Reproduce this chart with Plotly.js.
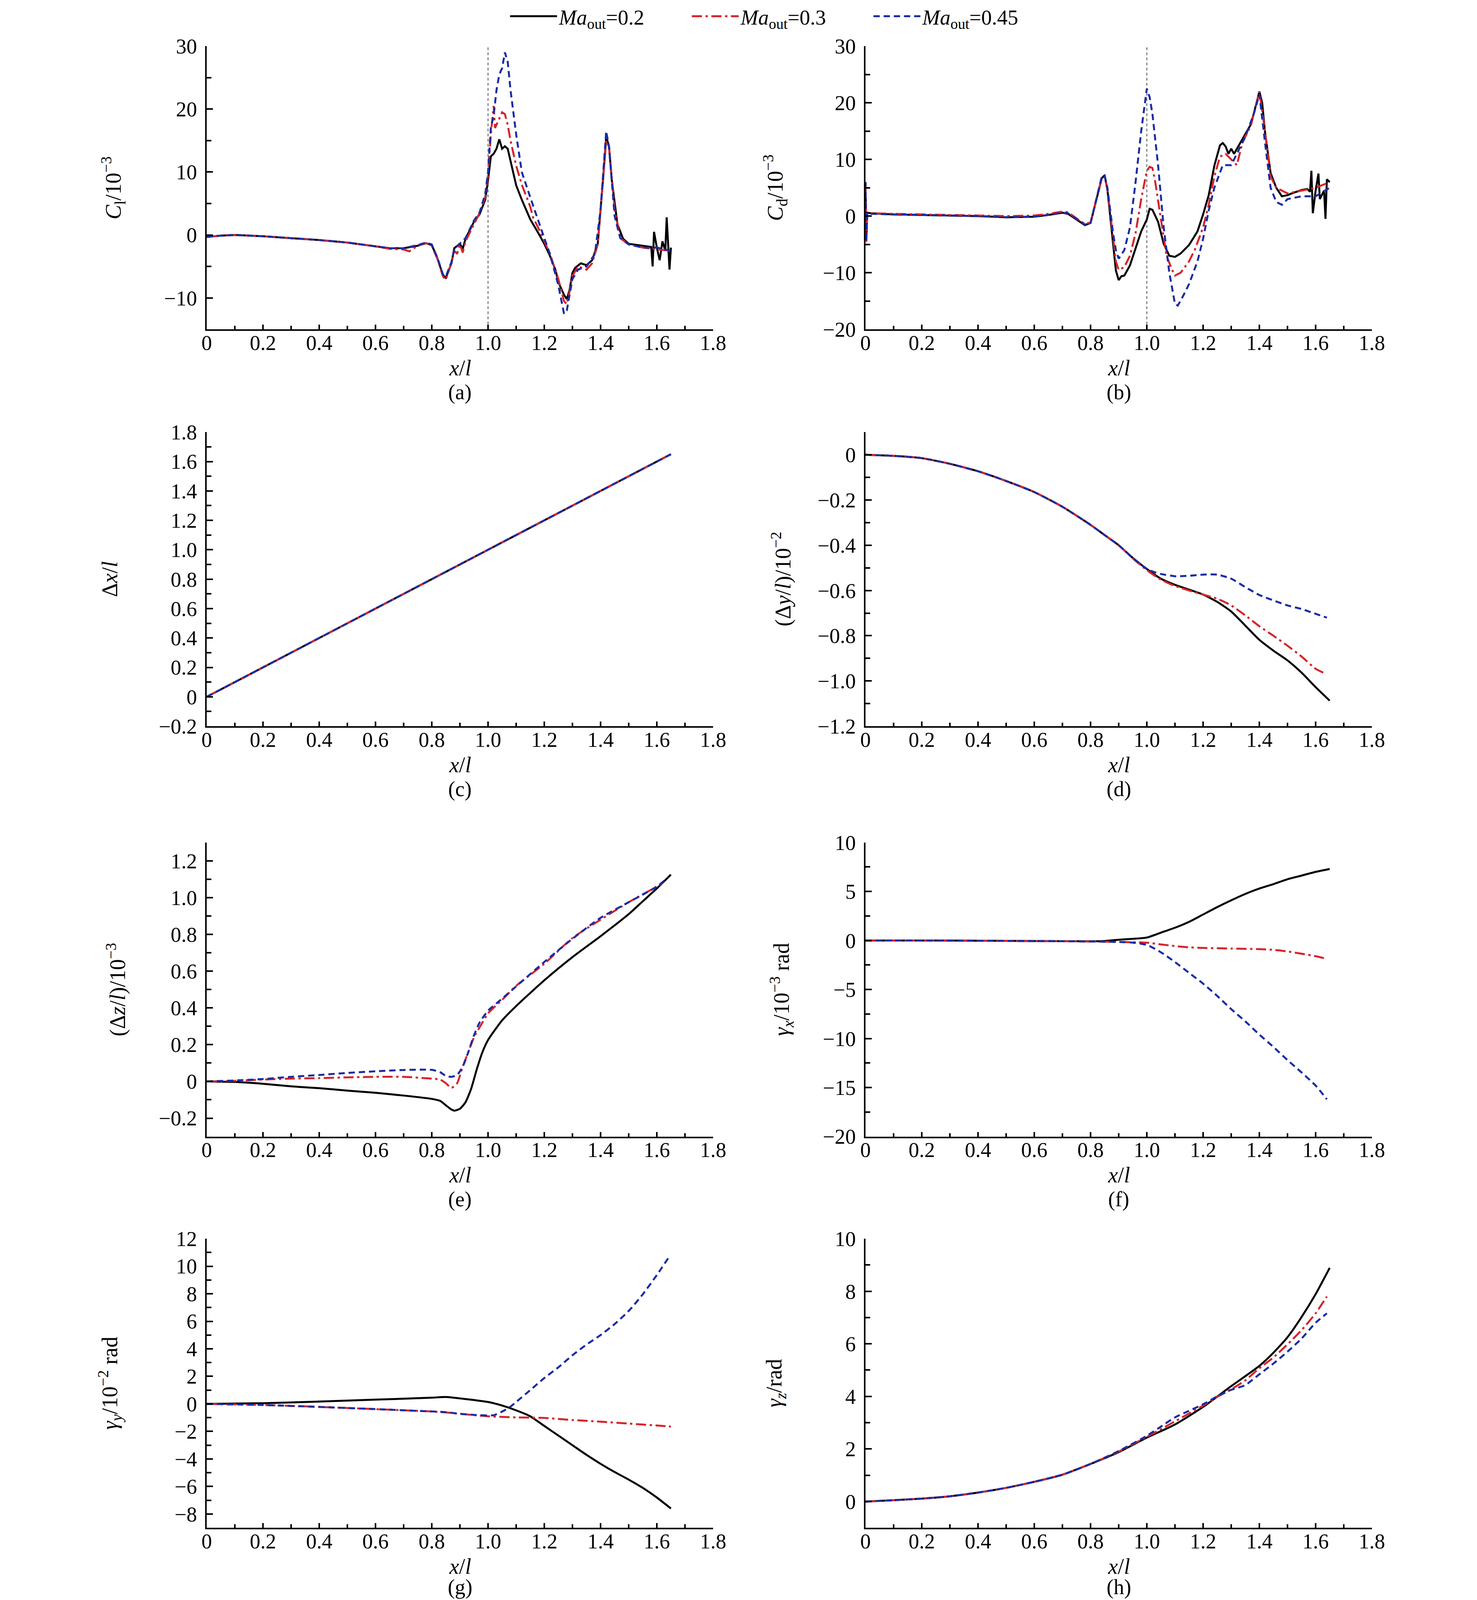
<!DOCTYPE html>
<html>
<head>
<meta charset="utf-8">
<script src="https://cdn.plot.ly/plotly-3.0.1.min.js"></script>
<style>html,body{margin:0;padding:0;background:#fff;overflow:hidden;}#chart{width:3780px;height:5430px;}</style>
</head>
<body>
<div id="chart"></div>
<script>
// ---------------- data (x/l, value) ----------------
const SERIES_NAMES = ['<i>Ma</i><sub>out</sub>=0.2', '<i>Ma</i><sub>out</sub>=0.3', '<i>Ma</i><sub>out</sub>=0.45'];

// (a) Cl/10^-3
const A_black = [[0,-0.3],[0.05,-0.1],[0.1,0],[0.2,-0.2],[0.3,-0.5],[0.4,-0.8],[0.5,-1.2],[0.6,-1.75],[0.65,-2.1],[0.7,-2.1],[0.75,-1.7],[0.78,-1.3],[0.8,-1.6],[0.82,-3.7],[0.84,-6.4],[0.85,-6.8],[0.87,-4.5],[0.88,-2.1],[0.9,-1.4],[0.91,-2.2],[0.92,-0.6],[0.95,2.1],[0.97,3.3],[0.99,5.6],[1.0,8.7],[1.01,12.5],[1.02,12.9],[1.03,13.7],[1.04,15.2],[1.05,13.7],[1.06,14.1],[1.07,13.7],[1.08,11.8],[1.1,7.9],[1.12,5.6],[1.15,2.5],[1.18,0.2],[1.2,-1.4],[1.22,-3.3],[1.24,-5.6],[1.25,-7.5],[1.27,-9.5],[1.28,-10.2],[1.29,-8.7],[1.3,-6],[1.31,-5.2],[1.33,-4.5],[1.35,-4.8],[1.37,-4],[1.39,-1.4],[1.41,9.5],[1.42,15.6],[1.43,14.1],[1.44,8.7],[1.46,1.7],[1.48,-0.6],[1.5,-1.4],[1.55,-1.7],[1.58,-1.9],[1.585,-5],[1.59,0.5],[1.6,-2],[1.61,-4],[1.62,-1],[1.63,-2.5],[1.635,2.8],[1.64,-2],[1.645,-5.5],[1.65,-2]];
const A_red = [[0,-0.3],[0.05,-0.1],[0.1,0],[0.2,-0.2],[0.3,-0.5],[0.4,-0.8],[0.5,-1.2],[0.6,-1.8],[0.65,-2.2],[0.7,-2.3],[0.72,-2.6],[0.75,-1.7],[0.78,-1.3],[0.8,-1.7],[0.82,-3.8],[0.84,-6.6],[0.85,-7.1],[0.87,-4.4],[0.88,-2.5],[0.89,-3],[0.9,-1.5],[0.91,-2.8],[0.92,-1],[0.95,1.8],[0.97,3.5],[0.99,6],[1.0,9.5],[1.01,16],[1.02,20.5],[1.025,17],[1.03,17.5],[1.04,18.5],[1.05,19.5],[1.06,19.2],[1.07,17.5],[1.08,15],[1.1,11],[1.12,8],[1.15,4.5],[1.16,2.8],[1.18,1],[1.2,-1],[1.22,-3],[1.25,-7],[1.27,-10.5],[1.28,-11],[1.29,-9],[1.3,-6.5],[1.32,-5],[1.35,-5.5],[1.37,-4.5],[1.39,-1.5],[1.41,9],[1.42,15],[1.43,14],[1.45,4],[1.47,-0.5],[1.5,-1.5],[1.55,-2],[1.6,-2.3],[1.65,-2.5]];
const A_blue = [[0,-0.3],[0.05,-0.1],[0.1,0],[0.2,-0.2],[0.3,-0.5],[0.4,-0.8],[0.5,-1.2],[0.6,-1.75],[0.65,-2.1],[0.7,-2.1],[0.75,-1.6],[0.78,-1.2],[0.8,-1.5],[0.82,-3.6],[0.84,-6.3],[0.85,-6.6],[0.87,-4.3],[0.88,-2.2],[0.9,-1.3],[0.92,-0.5],[0.95,2.3],[0.97,3.6],[0.99,6.5],[1.0,10],[1.01,17],[1.02,19],[1.03,23],[1.04,25.5],[1.05,26.5],[1.06,29],[1.07,27.5],[1.08,23],[1.1,16],[1.12,10],[1.15,6],[1.18,2],[1.2,-0.5],[1.22,-3],[1.25,-8],[1.27,-12.5],[1.28,-12],[1.3,-7],[1.32,-5.5],[1.35,-5],[1.38,-3],[1.4,4],[1.42,16.5],[1.43,14],[1.45,3],[1.47,-0.5],[1.5,-1.5],[1.55,-2],[1.6,-2],[1.65,-2.5]];

// (b) Cd/10^-3
const B_black = [[0,6],[0.003,-4.5],[0.006,0.6],[0.02,0.5],[0.1,0.3],[0.2,0.2],[0.3,0.1],[0.4,0],[0.5,-0.2],[0.6,-0.1],[0.65,0.2],[0.7,0.6],[0.72,0.4],[0.75,-0.6],[0.78,-1.6],[0.8,-1.2],[0.82,2.9],[0.84,6.7],[0.85,7.2],[0.86,4.6],[0.87,-0.1],[0.88,-4.9],[0.89,-9.6],[0.9,-11.3],[0.91,-10.6],[0.92,-10.5],[0.94,-8.7],[0.96,-5.7],[0.98,-2.7],[1.0,-0.6],[1.01,1.3],[1.02,1.1],[1.04,-1],[1.06,-4.9],[1.08,-7],[1.1,-7.2],[1.12,-6.6],[1.15,-5.1],[1.18,-2.7],[1.2,0.3],[1.22,3.7],[1.24,8.9],[1.26,12.5],[1.27,12.9],[1.28,12.3],[1.29,11],[1.3,11.9],[1.31,11],[1.33,12.7],[1.35,14.4],[1.37,16.2],[1.39,20],[1.4,22],[1.41,20],[1.42,14.9],[1.44,7.6],[1.46,5],[1.48,3.5],[1.5,3.7],[1.52,4.1],[1.55,4.6],[1.57,4.8],[1.58,4.3],[1.585,8],[1.59,0.5],[1.6,4.5],[1.61,7.5],[1.615,3],[1.63,4.5],[1.635,-0.5],[1.64,6.5],[1.65,6]];
const B_red = [[0,6],[0.003,-4.5],[0.006,0.6],[0.02,0.5],[0.1,0.4],[0.2,0.3],[0.3,0.2],[0.4,0.1],[0.5,0],[0.6,0.1],[0.65,0.4],[0.7,0.8],[0.72,0.7],[0.75,-0.4],[0.78,-1.4],[0.8,-1.1],[0.82,3],[0.84,6.8],[0.85,7],[0.86,4.8],[0.87,0.5],[0.88,-4],[0.89,-8],[0.9,-9.5],[0.92,-9],[0.94,-7],[0.96,-3],[0.98,3],[1.0,8],[1.01,8.7],[1.02,8.5],[1.03,6],[1.05,-0.5],[1.07,-7],[1.09,-9.5],[1.1,-10.5],[1.12,-10],[1.15,-8],[1.17,-6],[1.2,-2],[1.22,2],[1.24,7],[1.26,10.5],[1.28,11],[1.3,10],[1.32,9],[1.34,13],[1.37,16],[1.4,22],[1.42,15],[1.44,7],[1.46,5],[1.5,4],[1.55,4.5],[1.6,5],[1.65,6]];
const B_blue = [[0,6],[0.003,-4.5],[0.006,0.5],[0.02,0.4],[0.1,0.3],[0.2,0.2],[0.3,0.1],[0.4,0],[0.5,-0.2],[0.6,-0.1],[0.65,0.2],[0.7,0.6],[0.72,0.5],[0.75,-0.5],[0.78,-1.5],[0.8,-1.2],[0.82,3],[0.84,7],[0.85,7.2],[0.86,5],[0.87,1],[0.88,-3],[0.89,-6],[0.9,-7.5],[0.92,-6],[0.94,-2],[0.96,6],[0.98,15],[1.0,22.5],[1.01,21],[1.02,18],[1.04,9],[1.06,-2],[1.08,-10],[1.1,-15.5],[1.11,-15.8],[1.13,-14],[1.15,-12],[1.18,-8],[1.2,-4],[1.22,1],[1.24,5],[1.27,9],[1.3,9],[1.32,11],[1.35,14],[1.38,18],[1.4,21.5],[1.42,13],[1.44,5],[1.46,2.5],[1.48,2],[1.5,3],[1.55,3.5],[1.6,3.5],[1.65,5]];

// (c) Δx/l
const C_black = [[0,0],[0.5,0.5],[1.0,1.0],[1.65,1.65]];
const C_red = [[0,0],[0.5,0.5],[1.0,1.0],[1.65,1.65]];
const C_blue = [[0,0],[0.5,0.5],[1.0,1.0],[1.65,1.65]];

// (d) (Δy/l)/10^-2
const D_black = [[0,0],[0.1,-0.005],[0.2,-0.015],[0.3,-0.04],[0.4,-0.073],[0.5,-0.116],[0.6,-0.165],[0.7,-0.23],[0.8,-0.31],[0.85,-0.355],[0.9,-0.4],[0.95,-0.456],[1.0,-0.505],[1.05,-0.548],[1.1,-0.575],[1.15,-0.596],[1.2,-0.618],[1.25,-0.65],[1.3,-0.693],[1.35,-0.755],[1.4,-0.818],[1.45,-0.866],[1.5,-0.909],[1.55,-0.963],[1.6,-1.027],[1.65,-1.087]];
const D_red = [[0,0],[0.1,-0.005],[0.2,-0.015],[0.3,-0.04],[0.4,-0.073],[0.5,-0.116],[0.6,-0.165],[0.7,-0.23],[0.8,-0.31],[0.85,-0.355],[0.9,-0.4],[0.95,-0.458],[1.0,-0.51],[1.05,-0.552],[1.1,-0.58],[1.15,-0.6],[1.2,-0.618],[1.25,-0.636],[1.3,-0.666],[1.35,-0.71],[1.4,-0.758],[1.45,-0.8],[1.5,-0.844],[1.55,-0.892],[1.6,-0.946],[1.63,-0.965]];
const D_blue = [[0,0],[0.1,-0.005],[0.2,-0.015],[0.3,-0.04],[0.4,-0.073],[0.5,-0.116],[0.6,-0.165],[0.7,-0.23],[0.8,-0.31],[0.85,-0.355],[0.9,-0.4],[0.95,-0.456],[1.0,-0.505],[1.03,-0.52],[1.05,-0.527],[1.1,-0.537],[1.15,-0.535],[1.2,-0.53],[1.25,-0.53],[1.3,-0.548],[1.35,-0.585],[1.4,-0.62],[1.45,-0.644],[1.5,-0.666],[1.55,-0.682],[1.6,-0.703],[1.64,-0.72]];

// (e) (Δz/l)/10^-3
const E_black = [[0,0],[0.1,-0.003],[0.2,-0.013],[0.3,-0.027],[0.4,-0.037],[0.5,-0.05],[0.6,-0.062],[0.7,-0.077],[0.8,-0.095],[0.83,-0.106],[0.85,-0.13],[0.87,-0.153],[0.88,-0.159],[0.9,-0.149],[0.92,-0.113],[0.94,-0.04],[0.96,0.066],[0.98,0.159],[1.0,0.225],[1.05,0.332],[1.1,0.41],[1.2,0.55],[1.3,0.676],[1.4,0.79],[1.5,0.91],[1.55,0.98],[1.6,1.05],[1.65,1.125]];
const E_red = [[0,0],[0.1,0.003],[0.2,0.01],[0.3,0.015],[0.4,0.018],[0.5,0.022],[0.6,0.025],[0.7,0.025],[0.8,0.015],[0.83,0.01],[0.85,-0.01],[0.87,-0.035],[0.89,-0.01],[0.91,0.08],[0.93,0.16],[0.95,0.24],[0.98,0.32],[1.0,0.37],[1.05,0.444],[1.1,0.52],[1.2,0.64],[1.3,0.78],[1.4,0.88],[1.5,0.975],[1.6,1.06],[1.62,1.08]];
const E_blue = [[0,0],[0.1,0.005],[0.2,0.013],[0.3,0.025],[0.4,0.035],[0.5,0.046],[0.6,0.055],[0.7,0.062],[0.8,0.063],[0.83,0.05],[0.85,0.03],[0.87,0.025],[0.89,0.035],[0.91,0.08],[0.93,0.16],[0.95,0.25],[0.97,0.32],[1.0,0.385],[1.05,0.45],[1.07,0.477],[1.1,0.517],[1.2,0.65],[1.3,0.776],[1.4,0.89],[1.5,0.975],[1.6,1.06],[1.64,1.11]];

// (f) γx/10^-3 rad
const F_black = [[0,0],[0.2,0],[0.4,-0.02],[0.6,-0.05],[0.8,-0.08],[0.85,-0.05],[0.9,0.08],[0.95,0.17],[1.0,0.3],[1.05,0.8],[1.1,1.3],[1.15,1.9],[1.2,2.65],[1.25,3.4],[1.3,4.1],[1.35,4.75],[1.4,5.3],[1.45,5.75],[1.5,6.25],[1.55,6.62],[1.6,7.0],[1.65,7.3]];
const F_red = [[0,0],[0.2,0],[0.4,-0.03],[0.6,-0.06],[0.8,-0.1],[0.9,-0.15],[1.0,-0.22],[1.05,-0.4],[1.1,-0.57],[1.15,-0.7],[1.2,-0.76],[1.3,-0.82],[1.4,-0.88],[1.45,-0.95],[1.5,-1.12],[1.55,-1.35],[1.6,-1.6],[1.64,-1.88]];
const F_blue = [[0,0],[0.2,0],[0.4,-0.03],[0.6,-0.06],[0.8,-0.1],[0.9,-0.15],[0.95,-0.22],[1.0,-0.45],[1.05,-1.2],[1.1,-2.2],[1.15,-3.3],[1.2,-4.4],[1.25,-5.65],[1.3,-7.0],[1.35,-8.25],[1.4,-9.6],[1.45,-10.86],[1.5,-12.2],[1.55,-13.46],[1.6,-14.8],[1.64,-16.2]];

// (g) γy/10^-2 rad
const G_black = [[0,0],[0.2,0.05],[0.4,0.17],[0.6,0.31],[0.8,0.45],[0.85,0.5],[0.9,0.4],[0.95,0.28],[1.0,0.14],[1.05,-0.12],[1.1,-0.47],[1.15,-0.9],[1.2,-1.6],[1.25,-2.3],[1.3,-3.0],[1.35,-3.7],[1.4,-4.35],[1.45,-4.95],[1.5,-5.5],[1.55,-6.1],[1.6,-6.8],[1.65,-7.6]];
const G_red = [[0,0],[0.2,-0.08],[0.4,-0.22],[0.6,-0.38],[0.8,-0.55],[0.85,-0.62],[0.9,-0.72],[1.0,-0.9],[1.1,-0.98],[1.2,-1.02],[1.3,-1.17],[1.4,-1.29],[1.5,-1.43],[1.6,-1.57],[1.65,-1.65]];
const G_blue = [[0,0],[0.2,-0.08],[0.4,-0.22],[0.6,-0.38],[0.8,-0.55],[0.85,-0.6],[0.9,-0.72],[0.95,-0.8],[1.02,-0.82],[1.05,-0.56],[1.08,-0.2],[1.1,0.14],[1.15,1.0],[1.2,1.88],[1.25,2.66],[1.3,3.53],[1.35,4.31],[1.4,5.0],[1.45,5.8],[1.5,6.75],[1.55,7.96],[1.6,9.36],[1.64,10.57]];

// (h) γz/rad
const H_black = [[0,0],[0.1,0.05],[0.2,0.11],[0.3,0.2],[0.4,0.34],[0.5,0.52],[0.6,0.75],[0.7,1.02],[0.8,1.43],[0.9,1.88],[1.0,2.43],[1.1,2.93],[1.2,3.6],[1.3,4.39],[1.4,5.16],[1.45,5.66],[1.5,6.25],[1.55,7.02],[1.6,7.89],[1.65,8.89]];
const H_red = [[0,0],[0.1,0.05],[0.2,0.11],[0.3,0.2],[0.4,0.34],[0.5,0.52],[0.6,0.75],[0.7,1.02],[0.8,1.43],[0.9,1.9],[1.0,2.46],[1.1,3.05],[1.2,3.65],[1.25,3.98],[1.3,4.27],[1.35,4.61],[1.4,5.07],[1.45,5.48],[1.5,5.98],[1.55,6.52],[1.6,7.16],[1.64,7.8]];
const H_blue = [[0,0],[0.1,0.05],[0.2,0.11],[0.3,0.2],[0.4,0.34],[0.5,0.52],[0.6,0.75],[0.7,1.02],[0.8,1.43],[0.9,1.92],[1.0,2.5],[1.05,2.85],[1.1,3.2],[1.15,3.45],[1.2,3.7],[1.25,4.0],[1.3,4.25],[1.35,4.43],[1.4,4.84],[1.45,5.25],[1.5,5.7],[1.55,6.2],[1.6,6.8],[1.64,7.16]];

// ---------------- ticks ----------------
const X_TICKS = [0,0.2,0.4,0.6,0.8,1.0,1.2,1.4,1.6,1.8];
const X_TICK_TEXT = ['0','0.2','0.4','0.6','0.8','1.0','1.2','1.4','1.6','1.8'];
const Y_TICKS = {
  a: {vals:[-10,0,10,20,30], text:['\u221210','0','10','20','30'], minor:5, range:[-15,30]},
  b: {vals:[-20,-10,0,10,20,30], text:['\u221220','\u221210','0','10','20','30'], minor:5, range:[-20,30]},
  c: {vals:[-0.2,0,0.2,0.4,0.6,0.8,1.0,1.2,1.4,1.6,1.8], text:['\u22120.2','0','0.2','0.4','0.6','0.8','1.0','1.2','1.4','1.6','1.8'], minor:0.1, range:[-0.2,1.8]},
  d: {vals:[-1.2,-1.0,-0.8,-0.6,-0.4,-0.2,0], text:['\u22121.2','\u22121.0','\u22120.8','\u22120.6','\u22120.4','\u22120.2','0'], minor:0.1, range:[-1.2,0.1]},
  e: {vals:[-0.2,0,0.2,0.4,0.6,0.8,1.0,1.2], text:['\u22120.2','0','0.2','0.4','0.6','0.8','1.0','1.2'], minor:0.1, range:[-0.3,1.3]},
  f: {vals:[-20,-15,-10,-5,0,5,10], text:['\u221220','\u221215','\u221210','\u22125','0','5','10'], minor:2.5, range:[-20,10]},
  g: {vals:[-8,-6,-4,-2,0,2,4,6,8,10,12], text:['\u22128','\u22126','\u22124','\u22122','0','2','4','6','8','10','12'], minor:1, range:[-9,12]},
  h: {vals:[0,2,4,6,8,10], text:['0','2','4','6','8','10'], minor:1, range:[-1,10]}
};
const Y_TITLES = {
  a: '<i>C</i><sub>l</sub>/10<sup>\u22123</sup>',
  b: '<i>C</i><sub>d</sub>/10<sup>\u22123</sup>',
  c: '\u0394<i>x</i>/<i>l</i>',
  d: '(\u0394<i>y</i>/<i>l</i>)/10<sup>\u22122</sup>',
  e: '(\u0394<i>z</i>/<i>l</i>)/10<sup>\u22123</sup>',
  f: '<i>\u03b3</i><sub><i>x</i></sub>/10<sup>\u22123</sup> rad',
  g: '<i>\u03b3</i><sub><i>y</i></sub>/10<sup>\u22122</sup> rad',
  h: '<i>\u03b3</i><sub><i>z</i></sub>/rad'
};
const PANEL_DATA = {
  a:[A_black,A_red,A_blue], b:[B_black,B_red,B_blue], c:[C_black,C_red,C_blue], d:[D_black,D_red,D_blue],
  e:[E_black,E_red,E_blue], f:[F_black,F_red,F_blue], g:[G_black,G_red,G_blue], h:[H_black,H_red,H_blue]
};
const GUIDE_X = 1.0; // vertical reference line in (a),(b)

// ---------------- layout geometry (reference page 3780x5430) ----------------
const REF_W = 3780, REF_H = 5430;
// the figure is fitted to the visible window (same relative geometry as the reference page)
const W = Math.min(REF_W, window.innerWidth || REF_W);
const H = Math.min(REF_H, window.innerHeight || REF_H);
const chartDiv = document.getElementById('chart');
chartDiv.style.width = W + 'px';
chartDiv.style.height = H + 'px';
const VS = H / REF_H;                 // vertical scale vs. reference
const FSC = Math.min(1, (1 + VS) / 2); // font scale compromise
const TICK_FS = Math.round(62 * FSC);
const TITLE_FS = Math.round(64 * FSC);

const COLS = [[529,1825],[2215,3511]];
const ROWS = [[136,1101],[1451,2453],[2849,3851],[4199,5184]];
const YTITLE_X = {a:289,b:1983,c:281,d:2000,e:298,f:2000,g:281,h:1985};
const FONT = 'Liberation Serif, "Times New Roman", Times, serif';
const COLORS = ['#000000','#d8232a','#1a2ba6'];
const DASHES = ['solid','26px,9px,6px,9px','16px,10px'];
const WIDTHS = [5,5,5];
const XLABEL_STANDOFF = Math.round(53 * VS - 1.03 * TICK_FS);

const keys = ['a','b','c','d','e','f','g','h'];
const traces = [];
const layout = {
  width: W, height: H, margin:{l:0,r:0,t:0,b:0},
  paper_bgcolor:'#fff', plot_bgcolor:'rgba(0,0,0,0)',
  font:{family:FONT, size:TICK_FS, color:'#000'},
  showlegend:true,
  legend:{orientation:'h', x:1998/REF_W, xanchor:'center', y:1-34/REF_H, yanchor:'middle',
          font:{family:FONT,size:TICK_FS,color:'#000'}, bgcolor:'rgba(0,0,0,0)', itemwidth:120, entrywidth:330, tracegroupgap:0},
  annotations:[], shapes:[]
};

keys.forEach((k,i)=>{
  const n = i+1;
  const col = COLS[i%2], row = ROWS[Math.floor(i/2)];
  const xs = n===1?'x':'x'+n, ys = n===1?'y':'y'+n;
  PANEL_DATA[k].forEach((ser,j)=>{
    traces.push({
      type:'scatter', mode:'lines', x:ser.map(p=>p[0]), y:ser.map(p=>p[1]),
      xaxis:xs, yaxis:ys, name:SERIES_NAMES[j], showlegend:n===1, legendrank:j+1,
      line:{color:COLORS[j], width:WIDTHS[j], dash:DASHES[j], shape:(k==='a'||k==='b')?'linear':'spline', smoothing:0.6},
      hoverinfo:'skip'
    });
  });
  const common = {showline:true, linewidth:4, linecolor:'#000', showgrid:false, zeroline:false,
                  ticks:'inside', tickwidth:4, tickcolor:'#000',
                  tickfont:{family:FONT,size:TICK_FS,color:'#000'}, fixedrange:true};
  layout[n===1?'xaxis':'xaxis'+n] = Object.assign({}, common, {
    domain:[col[0]/REF_W, col[1]/REF_W], anchor:ys, range:[0,1.8], ticklen:Math.round(16*VS),
    tickmode:'array', tickvals:X_TICKS, ticktext:X_TICK_TEXT, ticklabelstandoff:XLABEL_STANDOFF,
    minor:{tickmode:'linear', tick0:0, dtick:0.1, ticks:'inside', ticklen:Math.round(12*VS), tickwidth:4, tickcolor:'#000'}
  });
  const yt = Y_TICKS[k];
  layout[n===1?'yaxis':'yaxis'+n] = Object.assign({}, common, {
    domain:[1-row[1]/REF_H, 1-row[0]/REF_H], anchor:xs, range:yt.range, ticklen:16,
    tickmode:'array', tickvals:yt.vals, ticktext:yt.text, ticklabelstandoff:10,
    minor:{tickmode:'linear', tick0:0, dtick:yt.minor, ticks:'inside', ticklen:12, tickwidth:4, tickcolor:'#000'}
  });
  const cx = (col[0]+col[1])/2/REF_W;
  layout.annotations.push({xref:'paper', yref:'paper', x:cx, y:1-(row[1]+131)/REF_H, text:'<i>x</i>/<i>l</i>',
    showarrow:false, xanchor:'center', yanchor:'middle', font:{family:FONT,size:TITLE_FS,color:'#000'}});
  // panel letter: keep it fully inside the page
  const letterPx = Math.min((row[1]+214)*VS, H - 0.62*TICK_FS);
  layout.annotations.push({xref:'paper', yref:'paper', x:cx, y:1-letterPx/H, text:'('+k+')',
    showarrow:false, xanchor:'center', yanchor:'middle', font:{family:FONT,size:TICK_FS,color:'#000'}});
  layout.annotations.push({xref:'paper', yref:'paper', x:YTITLE_X[k]/REF_W, y:1-(row[0]+row[1])/2/REF_H, text:Y_TITLES[k],
    showarrow:false, textangle:-90, xanchor:'center', yanchor:'middle', font:{family:FONT,size:TITLE_FS,color:'#000'}});
  if (k==='a' || k==='b') {
    layout.shapes.push({type:'line', xref:xs, yref:ys+' domain', x0:GUIDE_X, x1:GUIDE_X, y0:0, y1:1,
      line:{color:'#6e6e6e', width:2.5, dash:'7px,6px'}, layer:'below'});
  }
});

Plotly.newPlot('chart', traces, layout, {staticPlot:true, displayModeBar:false});
</script>
</body>
</html>
